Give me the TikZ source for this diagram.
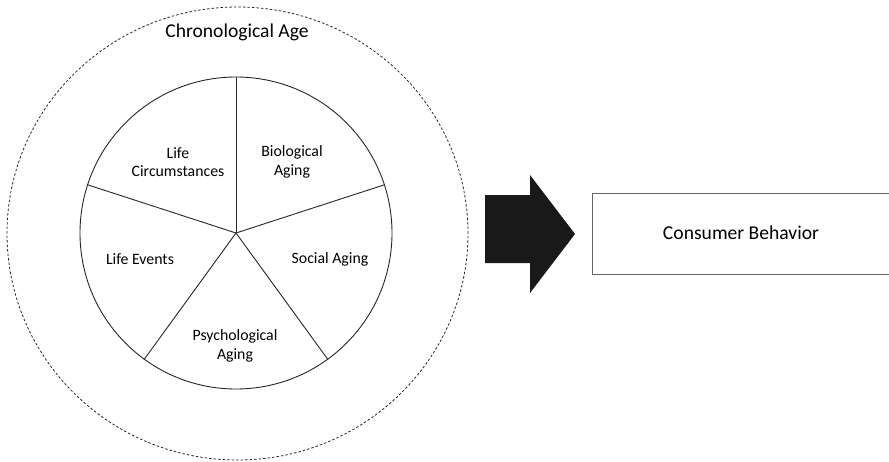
\documentclass[tikz,border=0pt]{standalone}
\usepackage{fontspec}
\setmainfont{Carlito}
\usetikzlibrary{shapes.geometric, positioning, calc}
\tikzstyle{sector} = [align=center, text centered, inner sep=0pt, font=\fontsize{15.8}{18.5}\selectfont]
\tikzstyle{title} = [inner sep=0pt, font=\fontsize{19.6}{22}\selectfont]
\tikzstyle{pie} = [circle, draw=black!85, line width=0.9pt, minimum size=312pt, inner sep=0pt]
\tikzstyle{agering} = [ellipse, draw=black!85, line width=0.8pt, dash pattern=on 2.5pt off 2pt, minimum width=461pt, minimum height=453pt, inner sep=0pt]
\tikzstyle{spoke} = [draw=black!85, line width=0.9pt]
\tikzstyle{blockarrow} = [fill=black!90]
\tikzstyle{outcome} = [rectangle, draw=black!60, line width=0.9pt, minimum width=300pt, minimum height=81pt, inner sep=0pt]

\begin{document}
\begin{tikzpicture}[x=1pt, y=-1pt]
    \useasboundingbox (0,0) rectangle (889,461);

    % Chronological age ring
    \node (ring) [agering] at (237.5,233.5) {};
    \node (chrono) [title] at (237,32) {Chronological Age};

    % Inner circle and its five parts
    \node (wheel) [pie] at (236,233) {};
    \foreach \a in {90,18,-54,-126,162}
        \draw [spoke] (wheel.center) -- (wheel.\a);

    \node (circ) [sector] at ($(wheel.center)+(-58,-71)$) {Life\\Circumstances};
    \node (bio) [sector] at ($(wheel.center)+(56,-71)$) {Biological\\Aging};
    \node (events) [sector] at ($(wheel.center)+(-96,26)$) {Life Events};
    \node (social) [sector] at ($(wheel.center)+(94,26)$) {Social Aging};
    \node (psych) [sector] at ($(wheel.center)+(-1,113)$) {Psychological\\Aging};

    % Big arrow
    \fill [blockarrow] (485,195) -- (530,195) -- (530,175) -- (575,234)
        -- (530,293) -- (530,263) -- (485,263) -- cycle;

    % Consumer behavior
    \node (behavior) [outcome] at (742,233.5) {};
    \node (behtext) [title] at (741,233) {Consumer Behavior};
\end{tikzpicture}
\end{document}
